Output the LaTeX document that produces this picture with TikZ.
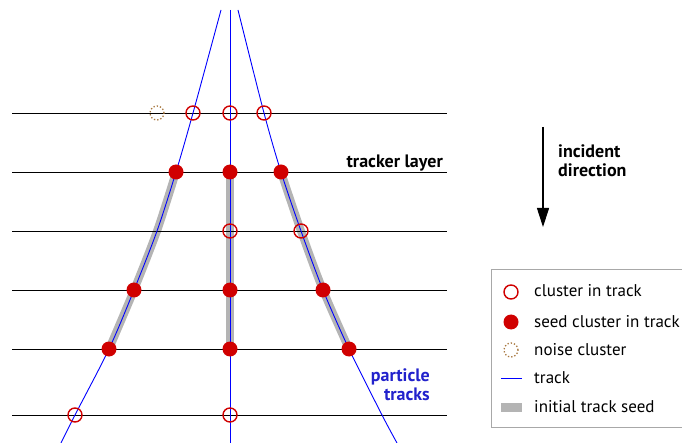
\documentclass[tikz,border=0pt]{standalone}
\usepackage{fontspec}
\setmainfont{PT Sans}
\usetikzlibrary{arrows.meta}
\definecolor{clred}{HTML}{D00000}
\definecolor{seedgray}{HTML}{B4B4B4}
\definecolor{noisebrown}{HTML}{A87840}
\definecolor{trkblue}{HTML}{0000FF}
\definecolor{lblblue}{HTML}{2222CC}
\definecolor{boxgray}{HTML}{A8A8A8}
\tikzset{
  layerline/.style={black, line width=0.9pt},
  trackline/.style={trkblue, line width=0.9pt},
  seedband/.style={seedgray, line width=8pt},
  opencl/.style={circle, draw=clred, line width=1.4pt, minimum size=14pt, inner sep=0pt},
  seedcl/.style={circle, fill=clred, minimum size=15pt, inner sep=0pt},
  noisecl/.style={circle, draw=noisebrown, dotted, line width=1.3pt, minimum size=14pt, inner sep=0pt},
  boldlbl/.style={font=\fontsize{18}{20}\selectfont\bfseries, inner sep=0pt},
  leglbl/.style={font=\fontsize{17}{19}\selectfont, anchor=base west, inner sep=0pt},
}
\begin{document}
\begin{tikzpicture}[x=1pt,y=-1pt]
\useasboundingbox (0,0) rectangle (682,443);
% layer end points
\foreach \n/\y in {1/113,2/172,3/231,4/290,5/349,6/415}{
  \coordinate (L\n) at (12,\y);
  \coordinate (R\n) at (447,\y);
}
% track points
\coordinate (a0) at (221,10);  \coordinate (a1) at (193,113); \coordinate (a2) at (176,172);
\coordinate (a3) at (157,231); \coordinate (a4) at (134,290); \coordinate (a5) at (109,349);
\coordinate (a6) at (75,415);  \coordinate (a7) at (61,443);
\coordinate (b0) at (230,10);  \coordinate (b1) at (230,113); \coordinate (b2) at (230,172);
\coordinate (b3) at (230,231); \coordinate (b4) at (230,290); \coordinate (b5) at (230,349);
\coordinate (b6) at (230,415); \coordinate (b7) at (230,443);
\coordinate (c0) at (238,10);  \coordinate (c1) at (264,113); \coordinate (c2) at (281,172);
\coordinate (c3) at (301,231); \coordinate (c4) at (323,290); \coordinate (c5) at (349,349);
\coordinate (c6) at (382,415); \coordinate (c7) at (397,443);
% seeds
\draw[seedband] plot[smooth] coordinates {(a2) (a3) (a4) (a5)};
\draw[seedband] (b2) -- (b5);
\draw[seedband] plot[smooth] coordinates {(c2) (c3) (c4) (c5)};
% layers
\foreach \n in {1,...,6}{ \draw[layerline] (L\n) -- (R\n); }
% tracks
\draw[trackline] plot[smooth] coordinates {(a0) (a1) (a2) (a3) (a4) (a5) (a6) (a7)};
\draw[trackline] (b0) -- (b7);
\draw[trackline] plot[smooth] coordinates {(c0) (c1) (c2) (c3) (c4) (c5) (c6) (c7)};
% clusters
\foreach \p in {a1,b1,c1,b3,c3,a6,b6}{ \node[opencl] (n\p) at (\p) {}; }
\foreach \p in {a2,b2,c2,a4,b4,c4,a5,b5,c5}{ \node[seedcl] (n\p) at (\p) {}; }
\node[noisecl] (noise) at (157,113) {};
% labels
\node[boldlbl, anchor=base east] (tl) at (443,168) {tracker layer};
\node[boldlbl, anchor=base west] (inc1) at (558,158) {incident};
\node[boldlbl, anchor=base west] (inc2) at (558,177) {direction};
\node[boldlbl, anchor=base east, text=lblblue] (pt1) at (430,381) {particle};
\node[boldlbl, anchor=base east, text=lblblue] (pt2) at (430,400) {tracks};
% arrow
\coordinate (arrS) at (543,127);
\coordinate (arrE) at (543,227);
\draw[line width=1.1pt, -{Triangle[length=19pt,width=12pt]}] (arrS) -- (arrE);
% legend
\draw[boxgray, line width=1pt] (491,270) rectangle (700,427);
\node[opencl] (lg1) at (511,292) {};
\node[seedcl] (lg2) at (511,322) {};
\node[noisecl] (lg3) at (511,350) {};
\coordinate (lg4a) at (501,378); \coordinate (lg4b) at (522,378);
\draw[trackline] (lg4a) -- (lg4b);
\fill[seedgray] (501,402.5) rectangle (522,411.5);
\node[leglbl] (t1) at (534,297) {cluster in track};
\node[leglbl] (t2) at (534,327) {seed cluster in track};
\node[leglbl] (t3) at (534,355) {noise cluster};
\node[leglbl] (t4) at (534,383) {track};
\node[leglbl] (t5) at (534,412) {initial track seed};
\end{tikzpicture}
\end{document}
